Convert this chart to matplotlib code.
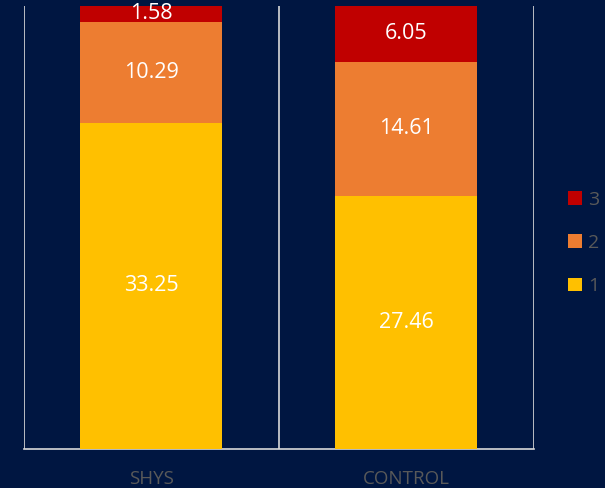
import matplotlib
matplotlib.use("Agg")
import matplotlib.pyplot as plt
import numpy as np

categories = ["SHYS", "CONTROL"]
series_names = ["1", "2", "3"]
s1 = [33.25, 27.46]
s2 = [10.29, 14.61]
s3 = [1.58, 6.05]
colors = ["#FFC000", "#ED7D31", "#C00000"]
bg = "#001641"

plt.rcParams['font.family'] = ['Open Sans', 'DejaVu Sans']

W, H = 605, 488
fig = plt.figure(figsize=(W/100, H/100), dpi=100, facecolor=bg)
ax = fig.add_axes([23.5/W, (H-449)/H, (534-23.5)/W, (449-6)/H], facecolor=bg)

vals = np.array([s1, s2, s3])
totals = vals.sum(axis=0)
pct = vals / totals * 100
x = np.arange(len(categories))
bottom = np.zeros(len(categories))
handles = []
for i, name in enumerate(series_names):
    b = ax.bar(x, pct[i], bottom=bottom, width=0.556, color=colors[i], label=name, zorder=3)
    ax.bar_label(b, labels=[f"{v:.2f}" for v in vals[i]], label_type='center',
                 color='white', fontsize=15.5)
    handles.append(b)
    bottom += pct[i]

ax.set_xlim(-0.5, 1.5)
ax.set_ylim(0, 100)
for s in ['top', 'right', 'left']:
    ax.spines[s].set_visible(False)
ax.spines['bottom'].set_color('#D9D9D9')
ax.spines['bottom'].set_linewidth(1.2)
for xv in [-0.5, 0.5, 1.5]:
    ax.axvline(xv, color='#D9D9D9', lw=1.2, zorder=2)
ax.set_yticks([])
ax.set_xticks(x)
ax.set_xticklabels(categories, color='#595959', fontsize=13.5)
ax.tick_params(axis='x', length=0, pad=15)

leg = fig.legend(handles[::-1], series_names[::-1], loc='center left',
                 bbox_to_anchor=(568/W, 1 - 243/H), frameon=False, borderpad=0,
                 borderaxespad=0,
                 fontsize=14, labelcolor='#595959', handlelength=0.72, handleheight=0.72,
                 handletextpad=0.3, labelspacing=1.3)

fig.savefig("out.png", dpi=100, facecolor=bg)
